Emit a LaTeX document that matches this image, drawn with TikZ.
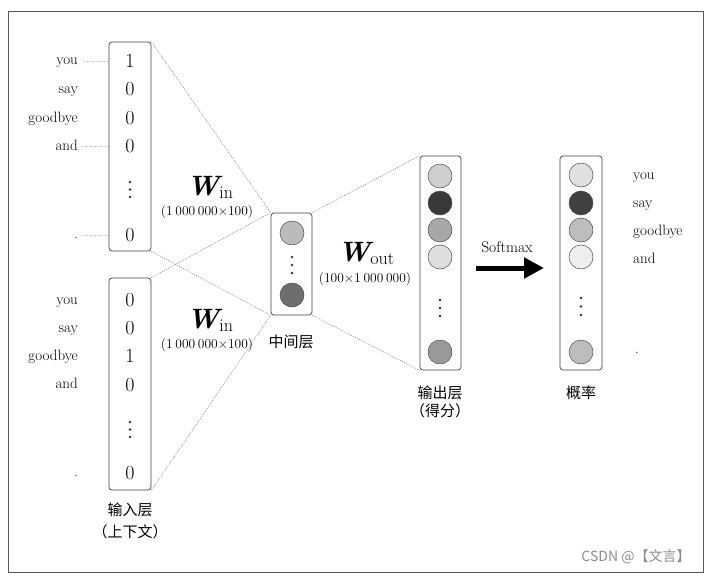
\documentclass[tikz,border=0pt]{standalone}
\usepackage{fontspec}
\usetikzlibrary{arrows.meta}
\newfontfamily\cjk{Noto Sans CJK SC}
\definecolor{oc1}{HTML}{CFCFCF}
\definecolor{oc2}{HTML}{383838}
\definecolor{oc3}{HTML}{A8A8A8}
\definecolor{oc4}{HTML}{DEDEDE}
\definecolor{oc5}{HTML}{9A9A9A}
\definecolor{pc1}{HTML}{E0E0E0}
\definecolor{pc2}{HTML}{404040}
\definecolor{pc3}{HTML}{BDBDBD}
\definecolor{pc4}{HTML}{EEEEEE}
\definecolor{pc5}{HTML}{BDBDBD}
\definecolor{mc1}{HTML}{BBBBBB}
\definecolor{mc2}{HTML}{6E6E6E}
\newcommand\gsp{\hspace{0.2em}}
\newcommand\wsym[1]{{\fontsize{28}{30}\selectfont\bfseries\itshape W}\raisebox{-3.5pt}{\fontsize{18}{20}\selectfont #1}}
\begin{document}
\begin{tikzpicture}[x=1pt,y=-1pt,
  vecbox/.style={draw=black!75, line width=0.7pt, rounded corners=3pt, inner sep=0pt},
  wordl/.style={font=\fontsize{15}{17}\selectfont, inner sep=0pt, anchor=base east},
  wordr/.style={font=\fontsize{15}{17}\selectfont, inner sep=0pt, anchor=base west},
  digit/.style={font=\fontsize{20}{22}\selectfont, inner sep=0pt},
  unit/.style={circle, draw=black!70, line width=0.5pt, minimum size=24pt, inner sep=0pt},
  conn/.style={draw=black!45, line width=0.6pt, dash pattern=on 1.2pt off 1.2pt},
  leader/.style={draw=black!30, line width=0.5pt, dash pattern=on 1pt off 1.5pt},
  wlabel/.style={inner sep=0pt},
  dimlabel/.style={font=\fontsize{13.5}{15}\selectfont, inner sep=0pt},
  cjklabel/.style={font=\cjk\fontsize{15}{17}\selectfont, inner sep=0pt},
  framestyle/.style={draw=black!65, line width=0.8pt}
]
\useasboundingbox (0,0) rectangle (717,578);
\draw[framestyle] (8,11) rectangle (703,572);

\newcommand\vdotsat[4]{\fill[black!80] (#1,#2) circle (1.3pt) (#1,#3) circle (1.3pt) (#1,#4) circle (1.3pt);}

% ---------- input boxes ----------
\node[vecbox, minimum width=42pt, minimum height=209pt] (in1) at (130,146.5) {};
\node[vecbox, minimum width=42pt, minimum height=212pt] (in2) at (130,384) {};

\node[digit] (a1) at (130,61) {1};
\node[digit] (a2) at (130,89) {0};
\node[digit] (a3) at (130,118) {0};
\node[digit] (a4) at (130,146) {0};
\vdotsat{130}{182}{189.5}{197}
\node[digit] (a6) at (130,235) {0};

\node[digit] (b1) at (130,300) {0};
\node[digit] (b2) at (130,328) {0};
\node[digit] (b3) at (130,356) {1};
\node[digit] (b4) at (130,385) {0};
\vdotsat{130}{422}{429.5}{437}
\node[digit] (b6) at (130,473) {0};

\node[wordl] (wa1) at (78,65) {you};
\node[wordl] (wa2) at (78,93) {say};
\node[wordl] (wa3) at (78,122) {goodbye};
\node[wordl] (wa4) at (78,150) {and};
\node[wordl] (wa6) at (78,238) {.};

\node[wordl] (wb1) at (78,304) {you};
\node[wordl] (wb2) at (78,332) {say};
\node[wordl] (wb3) at (78,360) {goodbye};
\node[wordl] (wb4) at (78,388) {and};
\node[wordl] (wb6) at (78,476) {.};

\draw[leader] ([xshift=6pt]wa1.east |- a1) -- (a1.west -| in1.west);
\draw[leader] ([xshift=4pt]wa4.east |- a4) -- (a4.west -| in1.west);
\draw[leader] ([xshift=4pt]wa6.east |- a6) -- (a6.west -| in1.west);

\node[cjklabel] (inl1) at (130,510) {输入层};
\node[cjklabel] (inl2) at (130,532) {（上下文）};

% ---------- middle layer ----------
\node[vecbox, minimum width=41pt, minimum height=102pt] (mid) at (291.5,264) {};
\node[unit, fill=mc1] (m1) at (292,233) {};
\vdotsat{292}{257}{265}{273}
\node[unit, fill=mc2] (m2) at (292,295) {};
\node[cjklabel] (midl) at (291,342) {中间层};

% ---------- connectors ----------
\draw[conn] (in1.north east) -- (mid.north west);
\draw[conn] (in1.south east) -- (mid.south west);
\draw[conn] (in2.north east) -- (mid.north west);
\draw[conn] (in2.south east) -- (mid.south west);

% ---------- weight labels ----------
\node[wlabel, anchor=base] (win1) at (210,195) {\wsym{in}};
\node[dimlabel] (win1d) at (207,212) {(1\gsp000\gsp000×100)};
\node[wlabel, anchor=base] (win2) at (210,328) {\wsym{in}};
\node[dimlabel] (win2d) at (207,345) {(1\gsp000\gsp000×100)};
\node[wlabel, anchor=base] (wout) at (366,261) {\wsym{out}};
\node[dimlabel] (woutd) at (365,279) {(100×1\gsp000\gsp000)};

% ---------- output layer ----------
\node[vecbox, minimum width=41pt, minimum height=214pt] (out) at (440.5,263) {};
\node[unit, fill=oc1] (o1) at (440,176) {};
\node[unit, fill=oc2] (o2) at (440,203) {};
\node[unit, fill=oc3] (o3) at (440,230) {};
\node[unit, fill=oc4] (o4) at (440,257) {};
\vdotsat{440}{300}{308}{316}
\node[unit, fill=oc5] (o5) at (440,352) {};
\node[cjklabel] (outl1) at (440,393) {输出层};
\node[cjklabel] (outl2) at (440,411) {（得分）};

\draw[conn] (mid.north east) -- (out.north west);
\draw[conn] (mid.south east) -- (out.south west);

% ---------- softmax ----------
\coordinate (sa) at (476,268);
\coordinate (sb) at (544,268);
\draw[line width=5pt, -{Triangle[length=20pt,width=20pt]}] (sa) -- (sb);
\node[font=\fontsize{15.5}{17}\selectfont, inner sep=0pt] (smx) at (507,247) {Softmax};

% ---------- probabilities ----------
\node[vecbox, minimum width=42pt, minimum height=214pt] (prob) at (581,263) {};
\node[unit, fill=pc1] (p1) at (581,175) {};
\node[unit, fill=pc2] (p2) at (581,203) {};
\node[unit, fill=pc3] (p3) at (581,230) {};
\node[unit, fill=pc4] (p4) at (581,257) {};
\vdotsat{581}{298}{306.5}{315}
\node[unit, fill=pc5] (p5) at (581,352) {};
\node[cjklabel] (probl) at (581,393) {概率};

\node[wordr] (wc1) at (633,179) {you};
\node[wordr] (wc2) at (633,207) {say};
\node[wordr] (wc3) at (633,235) {goodbye};
\node[wordr] (wc4) at (633,263) {and};
\node[wordr] (wc6) at (635,353) {.};

% ---------- watermark ----------
\node[font=\cjk\fontsize{14}{16}\selectfont, text=black!45, inner sep=0pt] (wm) at (636,557) {CSDN @【文言】};
\end{tikzpicture}
\end{document}
